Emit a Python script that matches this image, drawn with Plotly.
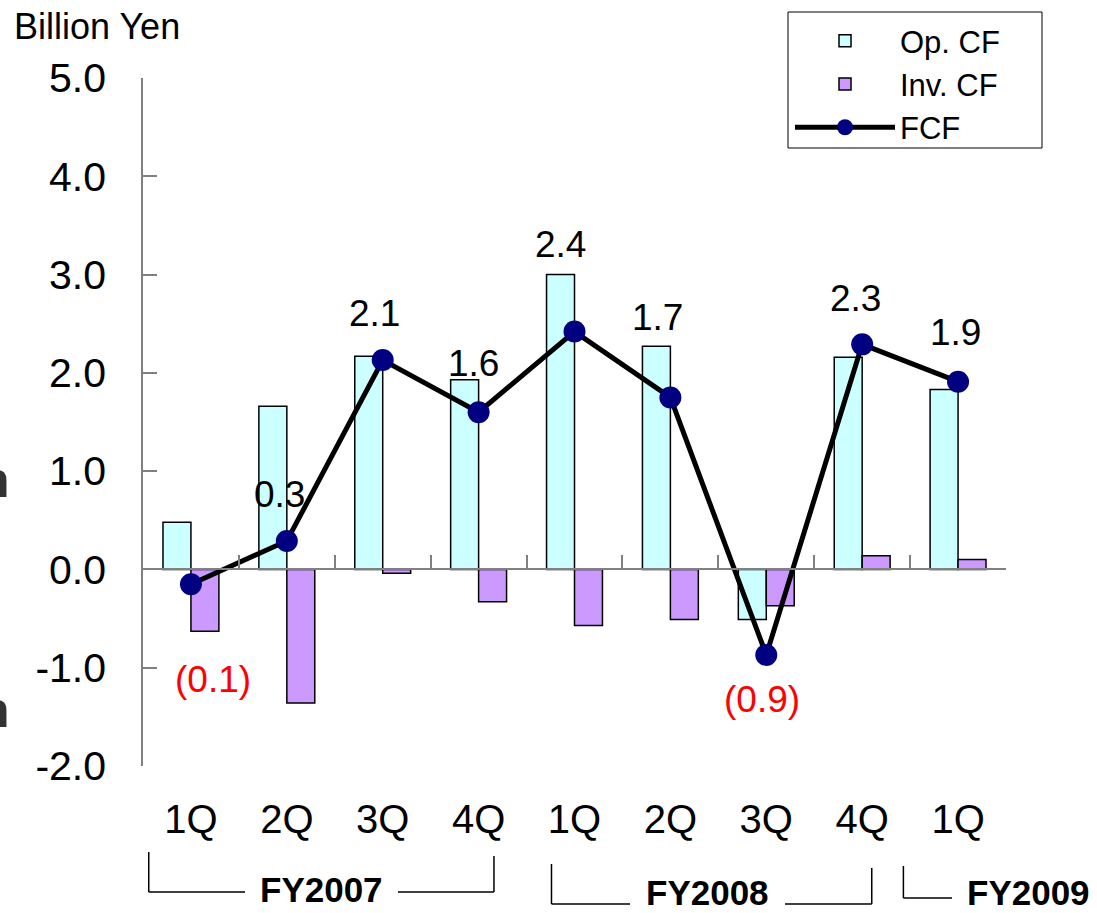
import plotly.graph_objects as go

# ---------------- data ----------------
quarters = ["1Q", "2Q", "3Q", "4Q", "1Q", "2Q", "3Q", "4Q", "1Q"]
fiscal_years = ["FY2007", "FY2008", "FY2009"]
fy_first_idx = [0, 4, 8]
fy_last_idx = [3, 7, 8]
op_cf = [0.48, 1.66, 2.17, 1.93, 3.00, 2.27, -0.51, 2.16, 1.83]
inv_cf = [-0.63, -1.36, -0.04, -0.33, -0.57, -0.51, -0.37, 0.14, 0.10]
fcf = [-0.15, 0.29, 2.13, 1.60, 2.42, 1.75, -0.87, 2.29, 1.91]
fcf_labels = ["(0.1)", "0.3", "2.1", "1.6", "2.4", "1.7", "(0.9)", "2.3", "1.9"]
y_ticks = [-2, -1, 0, 1, 2, 3, 4, 5]
y_tick_text = ["%.1f" % v for v in y_ticks]

# ---------------- style ----------------
FONT = "Liberation Sans, Arial, sans-serif"
W, H = 1097, 913
L, R, T, B = 143, 91, 78, 147
PW = W - L - R
PH = H - T - B
CAT_W = PW / len(quarters)


def py(pix):
    """pixel y -> paper y"""
    return (H - B - pix) / PH


def px(pix):
    """pixel x -> paper x"""
    return (pix - L) / PW


def cat_px(pos):
    """category position -> pixel x"""
    return L + CAT_W * (pos + 0.5)


x = list(range(len(quarters)))

fig = go.Figure()
fig.add_trace(go.Bar(
    x=x, y=op_cf, name="Op. CF",
    marker=dict(color="#CCFFFF", line=dict(color="black", width=1.5)),
))
fig.add_trace(go.Bar(
    x=x, y=inv_cf, name="Inv. CF",
    marker=dict(color="#CC99FF", line=dict(color="black", width=1.5)),
))
fig.add_trace(go.Scatter(
    x=x, y=fcf, name="FCF", xaxis="x2", mode="lines+markers",
    line=dict(color="black", width=5),
    marker=dict(size=22, color="#000080", line=dict(width=0)),
))

# data label offsets (pixels)
lab_shift = [(22, -95), (-7, 46), (-8, 47), (-5, 49), (-14, 87),
             (-13, 80), (-4, -45), (-7, 46), (-3, 49)]
annotations = []
for i, (v, t) in enumerate(zip(fcf, fcf_labels)):
    dx, dy = lab_shift[i]
    annotations.append(dict(
        x=i, y=v, xref="x", yref="y", text=t, showarrow=False,
        xshift=dx, yshift=dy,
        font=dict(family=FONT, size=37, color="#FF0000" if v < 0 else "black"),
    ))

annotations.append(dict(
    x=px(12), y=py(27), xref="paper", yref="paper", text="Billion Yen",
    showarrow=False, xanchor="left", yanchor="middle",
    font=dict(family=FONT, size=36, color="black"),
))
# cut-off fragments at the left edge
for yy in (480, 710):
    annotations.append(dict(
        x=px(12), y=py(yy), xref="paper", yref="paper", text="<b>n</b>",
        showarrow=False, xanchor="right", yanchor="middle",
        font=dict(family=FONT, size=50, color="#333333"),
    ))

# fiscal-year brackets (pixel geometry)
br_left_off = [-0.44, -0.24, -0.57]
br_right_off = [0.16, 0.10, None]
br_top = [852, 864, 866]
br_bot = [892, 904, 898]
text_left = [255, 640, 962]
text_right = [388, 775, 1095]
text_y = [889, 892, 892]
shapes = []
LINE = dict(color="black", width=1.5)
for k, name in enumerate(fiscal_years):
    xl = px(cat_px(fy_first_idx[k] + br_left_off[k]))
    shapes.append(dict(type="line", xref="paper", yref="paper", x0=xl, x1=xl,
                       y0=py(br_top[k]), y1=py(br_bot[k]), line=LINE))
    shapes.append(dict(type="line", xref="paper", yref="paper", x0=xl,
                       x1=px(text_left[k] - 10),
                       y0=py(br_bot[k]), y1=py(br_bot[k]), line=LINE))
    if br_right_off[k] is not None:
        xr = px(cat_px(fy_last_idx[k] + br_right_off[k]))
        shapes.append(dict(type="line", xref="paper", yref="paper",
                           x0=px(text_right[k] + 10), x1=xr,
                           y0=py(br_bot[k]), y1=py(br_bot[k]), line=LINE))
        shapes.append(dict(type="line", xref="paper", yref="paper", x0=xr, x1=xr,
                           y0=py(br_top[k] + 4), y1=py(br_bot[k]), line=LINE))
    annotations.append(dict(
        x=px((text_left[k] + text_right[k]) / 2), y=py(text_y[k]),
        xref="paper", yref="paper", text="<b>%s</b>" % name, showarrow=False,
        xanchor="center", yanchor="middle",
        font=dict(family=FONT, size=35, color="black"),
    ))

# legend frame (wider than plotly's auto-sized box)
shapes.append(dict(type="rect", xref="paper", yref="paper", layer="above",
                   x0=px(788), x1=px(1042), y0=py(12), y1=py(148),
                   fillcolor="white", line=dict(color="black", width=1)))

fig.update_layout(
    width=W, height=H,
    margin=dict(l=L, r=R, t=T, b=B, pad=0),
    paper_bgcolor="white", plot_bgcolor="white",
    font=dict(family=FONT, color="black"),
    barmode="group", bargap=0.417, bargroupgap=0,
    showlegend=True,
    legend=dict(
        x=px(790), y=py(14), xanchor="left", yanchor="top",
        bgcolor="rgba(0,0,0,0)", borderwidth=0,
        font=dict(family=FONT, size=31, color="black"),
        itemwidth=100, tracegroupgap=0,
    ),
    xaxis=dict(
        range=[-0.5, len(quarters) - 0.5], tickmode="array",
        tickvals=x, ticktext=quarters, showline=False, ticks="",
        showgrid=False, zeroline=False,
        tickfont=dict(family=FONT, size=40, color="black"),
        ticklabelstandoff=26,
    ),
    xaxis2=dict(
        overlaying="x", anchor="free",
        position=(0 - y_ticks[0]) / (y_ticks[-1] - y_ticks[0]),
        side="bottom",
        range=[-0.5, len(quarters) - 0.5], tickmode="array",
        tickvals=[i + 0.5 for i in x], showticklabels=False,
        showline=True, linecolor="#808080", linewidth=1.5,
        ticks="inside", ticklen=14, tickwidth=1.5, tickcolor="#808080",
        showgrid=False, zeroline=False,
    ),
    yaxis=dict(
        range=[y_ticks[0], y_ticks[-1]], tickmode="array", tickvals=y_ticks,
        ticktext=y_tick_text, showline=True, linecolor="#808080", linewidth=1.5,
        ticks="inside", ticklen=14, tickwidth=1.5, tickcolor="#808080",
        showgrid=False, zeroline=False,
        tickfont=dict(family=FONT, size=41, color="black"),
        ticklabelstandoff=27,
    ),
    annotations=annotations,
    shapes=shapes,
)

fig.write_html(
    "out.html",
    config={"displayModeBar": False},
    post_script="document.body.style.margin='0';document.body.style.padding='0';",
)
